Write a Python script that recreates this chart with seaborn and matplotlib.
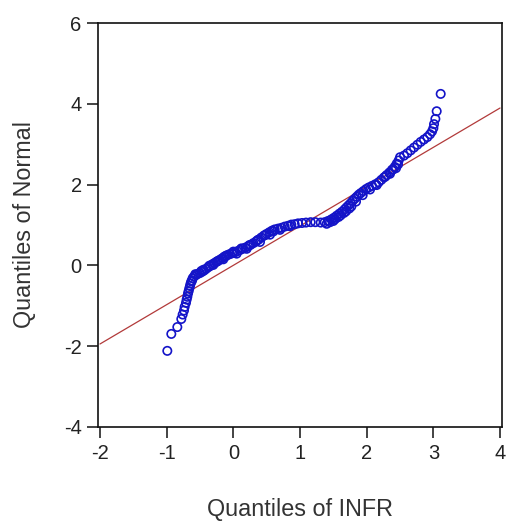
import matplotlib
matplotlib.use("Agg")
import matplotlib.pyplot as plt
import seaborn as sns
import pandas as pd

# Sample quantiles (INFR) vs theoretical normal quantiles
infr_q = [-0.99, -0.93, -0.84, -0.78, -0.76, -0.74, -0.73, -0.71, -0.70, -0.69,
          -0.68, -0.67, -0.66, -0.65, -0.64, -0.62, -0.61, -0.59, -0.56, -0.53,
          -0.50, -0.47, -0.44, -0.41, -0.38, -0.35, -0.32, -0.29, -0.26, -0.23,
          -0.20, -0.17, -0.14, -0.11, -0.08, -0.05, -0.02, 0.02, 0.06, 0.10,
          0.14, 0.18, 0.22, 0.26, 0.30, 0.34, 0.38, 0.42, 0.46, 0.50,
          0.54, 0.58, 0.62, 0.67, 0.72, 0.77, 0.82, 0.87, 0.92, 0.97,
          1.03, 1.09, 1.16, 1.23, 1.31, 1.37, 1.42, 1.47, 1.51, 1.55,
          1.59, 1.63, 1.67, 1.70, 1.73, 1.76, 1.79, 1.82, 1.85, 1.88,
          1.91, 1.95, 1.99, 2.03, 2.08, 2.13, 2.18, 2.22, 2.26, 2.30,
          2.34, 2.38, 2.42, 2.45, 2.48, 2.50, 2.56, 2.61, 2.66, 2.71,
          2.76, 2.81, 2.86, 2.91, 2.95, 2.98, 3.00, 3.01, 3.03, 3.05,
          3.11,
          -0.63, -0.57, -0.48, -0.36, -0.24, -0.12, 0.00, 0.12, 0.24, 0.36,
          0.48, 0.60, 1.45, 1.53, 1.61, 1.69, 1.77, 2.15, 2.28, 2.40,
          -0.45, -0.30, -0.15, 0.05, 0.20, 0.40, 0.55, 0.70, 0.85, 1.40,
          1.50, 1.58, 1.66, 1.74, 1.84, 1.94, 2.05, 2.35, 2.44, 2.47]
normal_q = [-2.12, -1.70, -1.53, -1.33, -1.22, -1.12, -1.03, -0.93, -0.85, -0.78,
            -0.70, -0.64, -0.57, -0.51, -0.45, -0.38, -0.32, -0.28, -0.24, -0.21,
            -0.19, -0.16, -0.13, -0.09, -0.05, -0.02, 0.02, 0.05, 0.08, 0.11,
            0.14, 0.17, 0.21, 0.24, 0.26, 0.28, 0.30, 0.32, 0.35, 0.38,
            0.41, 0.44, 0.47, 0.51, 0.55, 0.59, 0.64, 0.69, 0.74, 0.78,
            0.82, 0.86, 0.89, 0.91, 0.93, 0.96, 0.98, 1.01, 1.02, 1.04,
            1.05, 1.06, 1.07, 1.07, 1.06, 1.07, 1.10, 1.14, 1.18, 1.23,
            1.28, 1.33, 1.39, 1.44, 1.49, 1.54, 1.60, 1.65, 1.70, 1.75,
            1.79, 1.84, 1.89, 1.93, 1.97, 2.01, 2.06, 2.12, 2.18, 2.24,
            2.30, 2.37, 2.44, 2.52, 2.60, 2.68, 2.72, 2.78, 2.85, 2.92,
            2.99, 3.06, 3.12, 3.18, 3.25, 3.32, 3.40, 3.50, 3.63, 3.82,
            4.25,
            -0.40, -0.22, -0.14, -0.01, 0.10, 0.22, 0.34, 0.42, 0.50, 0.62,
            0.75, 0.84, 1.07, 1.15, 1.24, 1.34, 1.46, 1.99, 2.20, 2.38,
            -0.11, 0.01, 0.15, 0.29, 0.41, 0.58, 0.76, 0.88, 0.97, 1.03,
            1.10, 1.20, 1.30, 1.41, 1.58, 1.74, 1.88, 2.27, 2.41, 2.50]

# Reference line end points
line_x = [-2.0, 4.0]
line_y = [-1.95, 3.90]

x_ticks = [-2, -1, 0, 1, 2, 3, 4]
y_ticks = [-4, -2, 0, 2, 4, 6]

sns.set_theme(style="ticks")
plt.rcParams["font.family"] = ["Liberation Sans", "DejaVu Sans"]

df = pd.DataFrame({"INFR": infr_q, "Normal": normal_q})
line_df = pd.DataFrame({"x": line_x, "y": line_y})

fig = plt.figure(figsize=(5.25, 5.23), dpi=100)
ax = fig.add_axes([98.3 / 525, 1 - 427.3 / 523, (501.7 - 98.3) / 525, (427.3 - 22.7) / 523])

sns.lineplot(data=line_df, x="x", y="y", ax=ax, color="#b23a3a", linewidth=0.9, zorder=2)
sns.scatterplot(data=df, x="INFR", y="Normal", ax=ax, marker="o", s=36,
                facecolor="none", edgecolor="#1414c8", linewidth=1.2, zorder=3)

ax.set_xlim(-2.025, 4.025)
ax.set_ylim(-4.015, 6.015)
ax.set_xticks(x_ticks)
ax.set_yticks(y_ticks)
ax.set_xticklabels([str(t) for t in x_ticks])
ax.set_yticklabels([str(t) for t in y_ticks])
ax.tick_params(direction="out", length=8, width=1.1, colors="#111111",
               labelsize=14.5, labelcolor="#222222", pad=4)
for s in ax.spines.values():
    s.set_color("#111111")
    s.set_linewidth(1.2)

ax.set_xlabel("Quantiles of INFR", fontsize=16.8, color="#333333", labelpad=25)
ax.set_ylabel("Quantiles of Normal", fontsize=16.8, color="#333333", labelpad=20)

fig.savefig("out.png", dpi=100, facecolor="white")
